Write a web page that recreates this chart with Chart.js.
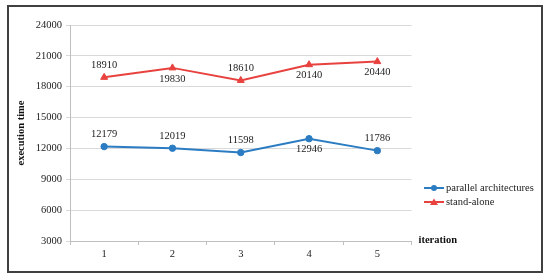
<!DOCTYPE html>
<html><head><meta charset="utf-8">
<script src="https://cdn.jsdelivr.net/npm/chart.js@4"></script>
<style>html,body{margin:0;padding:0;background:#fff}#w{width:550px;height:280px}</style>
</head><body><div id="w"><canvas id="c" width="550" height="280"></canvas></div>
<script>
const categories = ['1','2','3','4','5'];
const parallelArch = [12179, 12019, 11598, 12946, 11786];
const standAlone = [18910, 19830, 18610, 20140, 20440];
const parallelLabelPos = ['above','above','above','below','above'];
const standLabelPos = ['above','below','above','below','below'];
const yTicks = [3000, 6000, 9000, 12000, 15000, 18000, 21000, 24000];
const seriesNames = ['parallel architectures', 'stand-alone'];

const BLUE = '#2b7cc2', RED = '#e8423f';
const FONT = '"Liberation Serif", "Times New Roman", serif';

const deco = {
  id: 'deco',
  beforeDraw(chart) {
    const ctx = chart.ctx;
    ctx.save();
    ctx.fillStyle = '#fff';
    ctx.fillRect(0, 0, chart.width, chart.height);
    ctx.strokeStyle = '#404040';
    ctx.lineWidth = 2;
    ctx.strokeRect(8, 6, 534, 266);
    ctx.restore();
  },
  afterDatasetsDraw(chart) {
    const ctx = chart.ctx;
    ctx.save();
    ctx.font = '10.5px ' + FONT;
    ctx.fillStyle = '#222';
    ctx.textAlign = 'center';
    ctx.textBaseline = 'middle';
    const pos = [parallelLabelPos, standLabelPos];
    chart.data.datasets.forEach((ds, i) => {
      const meta = chart.getDatasetMeta(i);
      meta.data.forEach((el, j) => {
        const dy = pos[i][j] === 'above' ? -12 : 11;
        ctx.fillText(String(ds.data[j]), el.x, el.y + dy);
      });
    });
    ctx.font = 'bold 10.5px ' + FONT;
    ctx.textAlign = 'left';
    ctx.fillStyle = '#111';
    ctx.fillText('iteration', chart.chartArea.right + 7, chart.chartArea.bottom - 1);
    ctx.font = '10.5px ' + FONT;
    const lx = 424, ly = [188, 202];
    chart.data.datasets.forEach((ds, i) => {
      ctx.strokeStyle = ds.borderColor;
      ctx.fillStyle = ds.borderColor;
      ctx.lineWidth = 2;
      ctx.beginPath();
      ctx.moveTo(lx, ly[i]); ctx.lineTo(lx + 20, ly[i]); ctx.stroke();
      ctx.beginPath();
      if (i === 0) {
        ctx.arc(lx + 10, ly[i], 3, 0, Math.PI * 2);
      } else {
        ctx.moveTo(lx + 10, ly[i] - 3.5);
        ctx.lineTo(lx + 14, ly[i] + 3);
        ctx.lineTo(lx + 6, ly[i] + 3);
        ctx.closePath();
      }
      ctx.fill();
      ctx.fillStyle = '#222';
      ctx.fillText(ds.label, lx + 22, ly[i]);
    });
    ctx.restore();
  }
};

new Chart(document.getElementById('c'), {
  type: 'line',
  data: {
    labels: categories,
    datasets: [
      { label: seriesNames[0], data: parallelArch, borderColor: BLUE, backgroundColor: BLUE,
        borderWidth: 2, pointBorderWidth: 1, pointStyle: 'circle', pointRadius: 3.2, pointHoverRadius: 3.2, tension: 0 },
      { label: seriesNames[1], data: standAlone, borderColor: RED, backgroundColor: RED,
        borderWidth: 2, pointBorderWidth: 1, pointStyle: 'triangle', pointRadius: 4, pointHoverRadius: 4, tension: 0 }
    ]
  },
  options: {
    responsive: false,
    animation: false,
    events: [],
    layout: { padding: { left: 15, right: 138.5, top: 25, bottom: 0 } },
    plugins: { legend: { display: false }, tooltip: { enabled: false } },
    scales: {
      x: {
        offset: true,
        afterFit(s) { s.height = 39; },
        grid: { display: true, drawOnChartArea: false, offset: true, tickLength: 4, color: '#bfbfbf' },
        border: { color: '#bfbfbf' },
        ticks: { font: { family: FONT, size: 10.5 }, color: '#222', padding: 3 }
      },
      y: {
        min: 3000, max: 24000,
        afterFit(s) { s.width = 55; },
        afterBuildTicks(s) { s.ticks = yTicks.map(v => ({ value: v })); },
        grid: { color: '#d9d9d9', tickLength: 4 },
        border: { color: '#bfbfbf' },
        ticks: { font: { family: FONT, size: 10.5 }, color: '#222', padding: 4, callback: v => String(v) },
        title: { display: true, text: 'execution time', font: { family: FONT, size: 10.5, weight: 'bold' }, color: '#111', padding: { top: 0, bottom: 0 } }
      }
    }
  },
  plugins: [deco]
});
</script>
</body></html>
